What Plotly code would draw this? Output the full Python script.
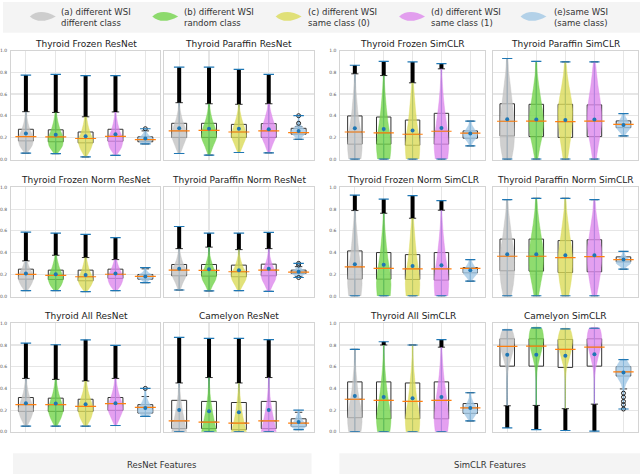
import numpy as np
import plotly.graph_objects as go

TITLES = [
    "Thyroid Frozen ResNet", "Thyroid Paraffin ResNet", "Thyroid Frozen SimCLR", "Thyroid Paraffin SimCLR",
    "Thyroid Frozen Norm ResNet", "Thyroid Paraffin Norm ResNet", "Thyroid Frozen Norm SimCLR", "Thyroid Paraffin Norm SimCLR",
    "Thyroid All ResNet", "Camelyon ResNet", "Thyroid All SimCLR", "Camelyon SimCLR",
]
LEGEND_LABELS = [
    "(a) different WSI<br>different class",
    "(b) different WSI<br>random class",
    "(c) different WSI<br>same class (0)",
    "(d) different WSI<br>same class (1)",
    "(e)same WSI<br>(same class)",
]
GROUP_LABELS = ["ResNet Features", "SimCLR Features"]
Y_TICKS = [0.0, 0.2, 0.4, 0.6, 0.8, 1.0]

# one row per panel, one value per violin (a..e)
VMIN = [
    [0.055, 0.050, 0.020, 0.035, 0.140], [0.052, 0.037, 0.061, 0.058, 0.183],
    [0.0, 0.0, 0.0, 0.0, 0.122], [0.0, 0.0, 0.0, 0.0, 0.214],
    [0.049, 0.049, 0.040, 0.049, 0.122], [0.055, 0.046, 0.049, 0.043, 0.170],
    [0.0, 0.0, 0.0, 0.0, 0.137], [0.0, 0.0, 0.0, 0.0, 0.247],
    [0.052, 0.052, 0.052, 0.058, 0.143], [0.0, 0.0, 0.0, 0.0, 0.020],
    [0.0, 0.0, 0.0, 0.0, 0.100], [0.036, 0.021, 0.012, 0.006, 0.210],
]
VMAX = [
    [0.774, 0.780, 0.770, 0.770, 0.280], [0.847, 0.847, 0.826, 0.780, 0.400],
    [0.865, 0.900, 0.896, 0.880, 0.350], [0.927, 0.900, 0.896, 0.896, 0.420],
    [0.588, 0.579, 0.567, 0.537, 0.262], [0.640, 0.579, 0.579, 0.585, 0.300],
    [0.930, 0.893, 0.924, 0.878, 0.335], [0.887, 0.900, 0.900, 0.887, 0.410],
    [0.818, 0.802, 0.848, 0.796, 0.400], [0.870, 0.860, 0.860, 0.850, 0.200],
    [0.760, 0.830, 0.800, 0.850, 0.360], [0.940, 0.957, 0.948, 0.954, 0.666],
]
Q1 = [
    [0.168, 0.160, 0.150, 0.165, 0.160], [0.200, 0.200, 0.200, 0.200, 0.230],
    [0.138, 0.138, 0.128, 0.138, 0.193], [0.214, 0.208, 0.200, 0.208, 0.290],
    [0.155, 0.152, 0.140, 0.162, 0.155], [0.186, 0.183, 0.177, 0.186, 0.207],
    [0.155, 0.155, 0.152, 0.146, 0.213], [0.232, 0.229, 0.216, 0.223, 0.314],
    [0.188, 0.188, 0.188, 0.198, 0.173], [0.030, 0.030, 0.020, 0.030, 0.050],
    [0.130, 0.120, 0.120, 0.120, 0.170], [0.605, 0.605, 0.593, 0.605, 0.514],
]
MED = [
    [0.208, 0.205, 0.190, 0.210, 0.180], [0.260, 0.265, 0.250, 0.260, 0.245],
    [0.250, 0.242, 0.229, 0.257, 0.240], [0.349, 0.350, 0.345, 0.350, 0.320],
    [0.198, 0.190, 0.177, 0.200, 0.180], [0.238, 0.235, 0.223, 0.238, 0.220],
    [0.268, 0.255, 0.250, 0.250, 0.255], [0.366, 0.366, 0.354, 0.362, 0.335],
    [0.250, 0.250, 0.234, 0.260, 0.225], [0.100, 0.090, 0.080, 0.100, 0.080],
    [0.300, 0.290, 0.280, 0.290, 0.220], [0.787, 0.790, 0.760, 0.780, 0.553],
]
Q3 = [
    [0.275, 0.270, 0.250, 0.275, 0.205], [0.330, 0.330, 0.320, 0.327, 0.284],
    [0.398, 0.388, 0.360, 0.422, 0.260], [0.510, 0.505, 0.505, 0.500, 0.352],
    [0.247, 0.238, 0.238, 0.247, 0.198], [0.290, 0.290, 0.284, 0.293, 0.238],
    [0.415, 0.400, 0.381, 0.400, 0.262], [0.524, 0.524, 0.510, 0.518, 0.360],
    [0.316, 0.310, 0.300, 0.316, 0.250], [0.290, 0.280, 0.270, 0.280, 0.120],
    [0.460, 0.460, 0.450, 0.460, 0.260], [0.857, 0.857, 0.851, 0.857, 0.600],
]
MEAN = [
    [0.235, 0.225, 0.210, 0.230, 0.190], [0.284, 0.280, 0.280, 0.275, 0.260],
    [0.284, 0.278, 0.263, 0.287, 0.235], [0.367, 0.365, 0.360, 0.365, 0.315],
    [0.207, 0.200, 0.192, 0.207, 0.180], [0.250, 0.247, 0.238, 0.250, 0.223],
    [0.293, 0.287, 0.277, 0.284, 0.238], [0.384, 0.384, 0.375, 0.375, 0.335],
    [0.264, 0.261, 0.255, 0.264, 0.219], [0.200, 0.190, 0.180, 0.200, 0.090],
    [0.330, 0.320, 0.310, 0.320, 0.220], [0.711, 0.711, 0.700, 0.714, 0.547],
]
WHIS_HI = [
    [0.437, 0.430, 0.390, 0.435, 0.260], [0.520, 0.510, 0.505, 0.510, 0.300],
    [0.786, 0.770, 0.703, 0.832, 0.350], [0.927, 0.900, 0.896, 0.896, 0.420],
    [0.323, 0.375, 0.354, 0.335, 0.250], [0.436, 0.450, 0.427, 0.436, 0.270],
    [0.787, 0.762, 0.716, 0.790, 0.335], [0.887, 0.900, 0.900, 0.887, 0.410],
    [0.492, 0.483, 0.468, 0.492, 0.325], [0.450, 0.500, 0.450, 0.500, 0.180],
    [0.760, 0.800, 0.800, 0.780, 0.360], [0.940, 0.957, 0.948, 0.954, 0.666],
]
WHIS_LO = [
    [0.055, 0.050, 0.020, 0.035, 0.140], [0.052, 0.037, 0.061, 0.058, 0.183],
    [0.0, 0.0, 0.0, 0.0, 0.122], [0.0, 0.0, 0.0, 0.0, 0.214],
    [0.049, 0.049, 0.040, 0.049, 0.122], [0.055, 0.046, 0.049, 0.043, 0.180],
    [0.0, 0.0, 0.0, 0.0, 0.137], [0.0, 0.0, 0.0, 0.0, 0.247],
    [0.052, 0.052, 0.052, 0.058, 0.143], [0.0, 0.0, 0.0, 0.0, 0.020],
    [0.0, 0.0, 0.0, 0.0, 0.100], [0.240, 0.243, 0.213, 0.255, 0.395],
]
# sparse outliers of the (e) violins
E_OUTLIERS = [
    [0.28], [0.33, 0.40], [], [], [], [0.285, 0.30, 0.17], [], [],
    [0.40], [], [], [0.356, 0.319, 0.28, 0.25, 0.21],
]
# relative violin width at evenly spaced levels from min to max
PROFILES = [
    [[0.15, 0.85, 1.0, 0.55, 0.25, 0.1, 0.05, 0.03, 0.02, 0.02, 0.015],
     [0.2, 0.9, 1.0, 0.6, 0.3, 0.12, 0.05, 0.03, 0.02, 0.02, 0.015],
     [0.1, 0.7, 1.0, 0.6, 0.3, 0.12, 0.05, 0.03, 0.02, 0.02, 0.015],
     [0.12, 0.8, 1.0, 0.6, 0.3, 0.12, 0.05, 0.03, 0.02, 0.02, 0.015],
     [0.15, 0.8, 1.0, 0.6, 0.3, 0.15, 0.08]],
    [[0.15, 0.6, 1.0, 0.8, 0.4, 0.15, 0.05, 0.03, 0.02, 0.02, 0.015],
     [0.12, 0.55, 1.0, 0.85, 0.45, 0.18, 0.06, 0.03, 0.02, 0.02, 0.015],
     [0.15, 0.6, 1.0, 0.75, 0.4, 0.15, 0.05, 0.03, 0.02, 0.02, 0.015],
     [0.12, 0.55, 1.0, 0.85, 0.5, 0.2, 0.07, 0.03, 0.02, 0.02],
     [0.1, 0.7, 1.0, 0.5, 0.2, 0.08, 0.04]],
    [[0.85, 1.0, 0.9, 0.65, 0.42, 0.28, 0.15, 0.07, 0.03],
     [0.85, 1.0, 0.85, 0.6, 0.4, 0.25, 0.13, 0.06, 0.02],
     [0.9, 1.0, 0.85, 0.6, 0.42, 0.28, 0.15, 0.07, 0.03],
     [0.85, 1.0, 0.9, 0.7, 0.48, 0.3, 0.17, 0.08, 0.03],
     [0.1, 0.4, 0.85, 1.0, 0.6, 0.25, 0.08]],
    [[0.6, 0.9, 1.0, 0.95, 0.8, 0.6, 0.4, 0.2, 0.05],
     [0.2, 0.5, 0.85, 1.0, 0.85, 0.6, 0.35, 0.15, 0.03],
     [0.3, 0.55, 0.8, 0.95, 1.0, 0.8, 0.5, 0.25, 0.05],
     [0.25, 0.5, 0.8, 1.0, 0.95, 0.75, 0.5, 0.3, 0.08],
     [0.1, 0.5, 0.9, 1.0, 0.6, 0.3, 0.08]],
    [[0.2, 0.7, 1.0, 0.85, 0.45, 0.2, 0.08, 0.04, 0.03, 0.02, 0.015],
     [0.2, 0.75, 1.0, 0.8, 0.5, 0.28, 0.12, 0.05, 0.03, 0.02, 0.015],
     [0.15, 0.7, 1.0, 0.75, 0.45, 0.25, 0.1, 0.05, 0.03, 0.02, 0.015],
     [0.2, 0.75, 1.0, 0.8, 0.45, 0.2, 0.08, 0.04, 0.02, 0.015],
     [0.1, 0.5, 1.0, 0.9, 0.4, 0.15, 0.05]],
    [[0.15, 0.45, 0.85, 1.0, 0.6, 0.3, 0.12, 0.05, 0.03, 0.02, 0.015],
     [0.15, 0.5, 0.9, 1.0, 0.6, 0.35, 0.15, 0.05, 0.03, 0.02, 0.015],
     [0.15, 0.55, 0.95, 1.0, 0.6, 0.32, 0.13, 0.05, 0.03, 0.02, 0.015],
     [0.15, 0.5, 0.9, 1.0, 0.65, 0.35, 0.15, 0.06, 0.03, 0.02, 0.015],
     [0.15, 0.6, 1.0, 0.7, 0.3, 0.15, 0.08]],
    [[0.85, 1.0, 0.9, 0.65, 0.45, 0.3, 0.15, 0.07, 0.03],
     [0.9, 1.0, 0.85, 0.6, 0.4, 0.25, 0.12, 0.05, 0.02],
     [0.9, 1.0, 0.85, 0.6, 0.42, 0.28, 0.15, 0.07, 0.03],
     [0.9, 1.0, 0.9, 0.65, 0.45, 0.28, 0.15, 0.06, 0.03],
     [0.15, 0.5, 0.9, 1.0, 0.6, 0.3, 0.08]],
    [[0.55, 0.85, 1.0, 1.0, 0.85, 0.6, 0.4, 0.2, 0.05],
     [0.3, 0.6, 0.9, 1.0, 0.9, 0.65, 0.4, 0.2, 0.04],
     [0.45, 0.75, 0.95, 1.0, 0.85, 0.6, 0.38, 0.18, 0.04],
     [0.3, 0.6, 0.85, 1.0, 0.95, 0.7, 0.45, 0.22, 0.05],
     [0.1, 0.5, 1.0, 0.85, 0.45, 0.2, 0.05]],
    [[0.15, 0.7, 1.0, 0.7, 0.35, 0.15, 0.06, 0.03, 0.02, 0.02, 0.015],
     [0.15, 0.7, 1.0, 0.75, 0.4, 0.18, 0.07, 0.03, 0.02, 0.02, 0.015],
     [0.15, 0.75, 1.0, 0.7, 0.35, 0.15, 0.06, 0.03, 0.02, 0.02, 0.015],
     [0.12, 0.6, 1.0, 0.8, 0.45, 0.2, 0.08, 0.03, 0.02, 0.02, 0.015],
     [0.3, 1.0, 0.8, 0.45, 0.2, 0.1, 0.05]],
    [[1.0, 0.75, 0.5, 0.3, 0.15, 0.07, 0.03, 0.02, 0.02, 0.015, 0.01],
     [1.0, 0.75, 0.5, 0.3, 0.15, 0.07, 0.03, 0.02, 0.02, 0.015, 0.01],
     [1.0, 0.7, 0.45, 0.28, 0.14, 0.06, 0.03, 0.02, 0.02, 0.015, 0.01],
     [1.0, 0.75, 0.5, 0.3, 0.15, 0.07, 0.03, 0.02, 0.02, 0.015, 0.01],
     [0.3, 1.0, 0.8, 0.5, 0.3, 0.15, 0.05]],
    [[0.85, 1.0, 0.9, 0.65, 0.42, 0.28, 0.15, 0.07, 0.03],
     [0.85, 1.0, 0.85, 0.6, 0.4, 0.25, 0.13, 0.06, 0.02],
     [0.9, 1.0, 0.85, 0.6, 0.42, 0.28, 0.15, 0.07, 0.03],
     [0.85, 1.0, 0.9, 0.7, 0.48, 0.3, 0.17, 0.08, 0.03],
     [0.15, 0.6, 1.0, 0.8, 0.4, 0.15, 0.05]],
    [[0.02, 0.02, 0.02, 0.02, 0.03, 0.05, 0.15, 0.5, 0.85, 1.0, 0.6],
     [0.02, 0.02, 0.02, 0.02, 0.03, 0.05, 0.15, 0.45, 0.8, 1.0, 0.7],
     [0.02, 0.02, 0.02, 0.02, 0.03, 0.05, 0.15, 0.5, 0.85, 1.0, 0.6],
     [0.02, 0.02, 0.02, 0.02, 0.03, 0.05, 0.15, 0.45, 0.8, 1.0, 0.7],
     [0.05, 0.05, 0.08, 0.3, 0.9, 1.0, 0.3]],
]

BODY_COLORS = ["rgba(195,195,195,0.8)", "rgba(115,211,75,0.8)", "rgba(219,219,89,0.8)",
               "rgba(221,136,236,0.8)", "rgba(163,200,229,0.8)"]
BLUE = "#1f77b4"
ORANGE = "#ff7f0e"
GRID = "#e6e6e6"
FRAME = "#d4d4d4"
FONT = "DejaVu Sans"

W, H = 640, 476
COL_PX = [(8, 158), (162, 312), (339, 484), (492, 638)]
ROW_PX = [(49, 159), (187, 297), (324, 434)]


def px(x):
    return x / W


def py(y):
    return 1 - y / H


fig = go.Figure()
axes = {}
annotations = []
shapes = []

for p, title in enumerate(TITLES):
    r, c = divmod(p, 4)
    n = "" if p == 0 else str(p + 1)
    xa, ya = "x" + n, "y" + n
    x0, x1 = COL_PX[c]
    top, bot = ROW_PX[r]
    unit = (x1 - x0) / 5.0
    pos = list(range(5))
    common = dict(xaxis=xa, yaxis=ya, hoverinfo="skip", showlegend=False)

    axes["xaxis" + n] = dict(domain=[px(x0), px(x1)], range=[-0.5, 4.5], anchor=ya,
                             tickvals=pos, showticklabels=False, ticks="", showgrid=True,
                             gridcolor=GRID, gridwidth=1.2, zeroline=False, showline=True,
                             mirror=True, linecolor=FRAME, linewidth=1)
    axes["yaxis" + n] = dict(domain=[py(bot), py(top)], range=[-0.005, 1.0], anchor=xa,
                             tickvals=Y_TICKS, ticktext=[f"{v:.1f}" for v in Y_TICKS],
                             showticklabels=c in (0, 2), ticks="", ticklabelstandoff=2,
                             tickfont=dict(size=4.5, color="#555"), showgrid=True,
                             gridcolor=GRID, gridwidth=1.2, zeroline=False, showline=True,
                             mirror=True, linecolor=FRAME, linewidth=1)
    annotations.append(dict(text=title, x=px((x0 + x1) / 2), y=py(top - 7), xref="paper",
                            yref="paper", showarrow=False, xanchor="center", yanchor="middle",
                            font=dict(size=9, color="#222", family=FONT)))

    # center bars of the violins (min to max)
    bx, by = [], []
    for i in pos:
        bx += [i, i, None]
        by += [VMIN[p][i], VMAX[p][i], None]
    fig.add_trace(go.Scatter(x=bx, y=by, mode="lines", line=dict(color=BLUE, width=1), **common))

    # violin bodies
    for i in pos:
        w = 0.25 * np.array(PROFILES[p][i])
        lv = np.linspace(VMIN[p][i], VMAX[p][i], len(w))
        xs = np.concatenate([i + w, (i - w)[::-1]])
        ys = np.concatenate([lv, lv[::-1]])
        fig.add_trace(go.Scatter(x=xs, y=ys, mode="lines", fill="toself", fillcolor=BODY_COLORS[i],
                                 line=dict(color=BODY_COLORS[i], width=0.5, shape="spline", smoothing=0.7),
                                 **common))

    # boxes
    fig.add_trace(go.Box(x=pos, q1=Q1[p], median=MED[p], q3=Q3[p], lowerfence=WHIS_LO[p],
                         upperfence=WHIS_HI[p], width=0.5, whiskerwidth=0.5, boxpoints=False,
                         fillcolor="rgba(255,255,255,0.2)", line=dict(color="#333333", width=1),
                         **common))

    # dense outliers of a-d
    ox, oy = [], []
    for i in range(4):
        if VMAX[p][i] > WHIS_HI[p][i] + 1e-6:
            ox += [i, i, None]
            oy += [WHIS_HI[p][i], VMAX[p][i], None]
        if VMIN[p][i] < WHIS_LO[p][i] - 1e-6:
            ox += [i, i, None]
            oy += [VMIN[p][i], WHIS_LO[p][i], None]
    if ox:
        fig.add_trace(go.Scatter(x=ox, y=oy, mode="lines", line=dict(color="black", width=4), **common))
    if E_OUTLIERS[p]:
        fig.add_trace(go.Scatter(x=[4] * len(E_OUTLIERS[p]), y=E_OUTLIERS[p], mode="markers",
                                 marker=dict(symbol="circle-open", size=4, color="#222",
                                             line=dict(width=1)), **common))

    # violin extrema caps
    fig.add_trace(go.Scatter(x=pos + pos, y=VMIN[p] + VMAX[p], mode="markers",
                             marker=dict(symbol="line-ew", size=0.25 * unit, color=BLUE,
                                         line=dict(color=BLUE, width=1.2)), **common))
    # medians
    fig.add_trace(go.Scatter(x=pos, y=MED[p], mode="markers",
                             marker=dict(symbol="line-ew", size=0.5 * unit, color=ORANGE,
                                         line=dict(color=ORANGE, width=1.2)), **common))
    # means
    fig.add_trace(go.Scatter(x=pos, y=MEAN[p], mode="markers",
                             marker=dict(symbol="circle", size=4, color=BLUE), **common))

# legend band
shapes.append(dict(type="rect", xref="paper", yref="paper", x0=0, x1=1, y0=py(31), y1=1,
                   fillcolor="#f4f4f4", line=dict(width=0), layer="below"))
LEG_ICON_X = [40, 163, 287, 411, 533]
LEG_TEXT_X = [56, 180, 304, 428, 552]
for k, label in enumerate(LEGEND_LABELS):
    cx, cy, hw, hh = LEG_ICON_X[k], 14.5, 13, 9
    path = (f"M {px(cx - hw)},{py(cy)} Q {px(cx - 3)},{py(cy - hh)} {px(cx + hw)},{py(cy)} "
            f"Q {px(cx - 3)},{py(cy + hh)} {px(cx - hw)},{py(cy)} Z")
    shapes.append(dict(type="path", xref="paper", yref="paper", path=path,
                       fillcolor=BODY_COLORS[k], line=dict(width=0)))
    annotations.append(dict(text=label, x=px(LEG_TEXT_X[k]), y=py(15.5), xref="paper", yref="paper",
                            showarrow=False, xanchor="left", yanchor="middle", align="left",
                            font=dict(size=8.5, color="#333", family=FONT)))

# group labels at the bottom
GROUP_PX = [(10, 310), (338, 640)]
for k, label in enumerate(GROUP_LABELS):
    g0, g1 = GROUP_PX[k]
    shapes.append(dict(type="rect", xref="paper", yref="paper", x0=px(g0), x1=px(g1),
                       y0=0, y1=py(455), fillcolor="#f4f4f4", line=dict(width=0), layer="below"))
    annotations.append(dict(text=label, x=px((g0 + g1) / 2), y=py(467), xref="paper", yref="paper",
                            showarrow=False, xanchor="center", yanchor="middle",
                            font=dict(size=8.5, color="#333", family=FONT)))

fig.update_layout(width=W, height=H, margin=dict(l=0, r=0, t=0, b=0),
                  paper_bgcolor="white", plot_bgcolor="white",
                  font=dict(family=FONT), showlegend=False,
                  annotations=annotations, shapes=shapes, **axes)

fig.write_html("out.html", config={"displayModeBar": False, "staticPlot": True},
               post_script="document.body.style.margin='0';document.body.style.overflow='hidden';")
